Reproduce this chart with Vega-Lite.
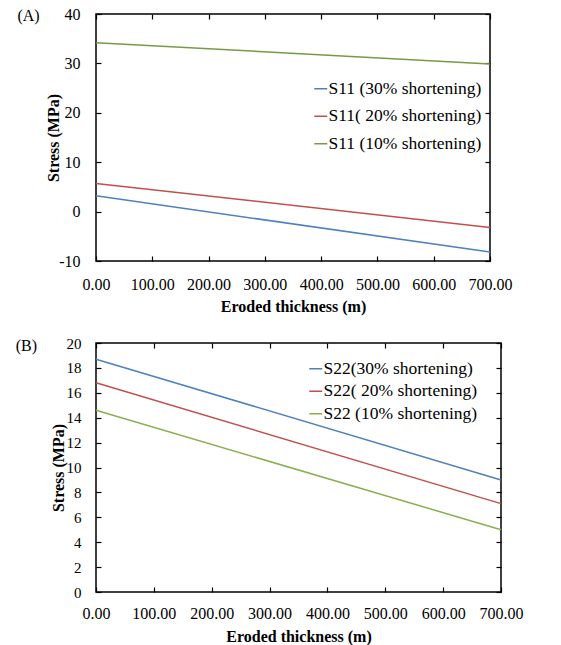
{
  "$schema": "https://vega.github.io/schema/vega-lite/v6.json",
  "padding": {"left": 14, "top": 5, "right": 5, "bottom": 5},
  "background": "white",
  "columns": 1,
  "config": {
    "font": "Liberation Serif",
    "view": {"stroke": "black", "strokeWidth": 1.5},
    "axis": {
      "labelFont": "Liberation Serif", "labelFontSize": 16, "labelColor": "black",
      "titleFont": "Liberation Serif", "titleFontSize": 16, "titleFontWeight": "bold", "titleColor": "black",
      "grid": false, "domain": false, "tickColor": "black", "tickSize": -5, "tickWidth": 1.2,
      "labelOverlap": false, "labelFlush": false, "labelBound": false
    },
    "legend": {
      "labelFont": "Liberation Serif", "labelFontSize": 17.5, "labelColor": "black",
      "symbolType": "stroke", "symbolSize": 169, "symbolStrokeWidth": 1.5, "labelOffset": -1, "title": null
    },
    "title": {"font": "Liberation Serif", "fontSize": 16, "fontWeight": "normal", "color": "black"}
  },
  "datasets": {
    "a": [
      {"x": 0, "stress": 3.2, "series": "S11 (30% shortening)"},
      {"x": 700, "stress": -8.2, "series": "S11 (30% shortening)"},
      {"x": 0, "stress": 5.7, "series": "S11( 20% shortening)"},
      {"x": 700, "stress": -3.2, "series": "S11( 20% shortening)"},
      {"x": 0, "stress": 34.2, "series": "S11 (10% shortening)"},
      {"x": 700, "stress": 29.9, "series": "S11 (10% shortening)"}
    ],
    "b": [
      {"x": 0, "stress": 18.7, "series": "S22(30% shortening)"},
      {"x": 700, "stress": 9.0, "series": "S22(30% shortening)"},
      {"x": 0, "stress": 16.8, "series": "S22( 20% shortening)"},
      {"x": 700, "stress": 7.1, "series": "S22( 20% shortening)"},
      {"x": 0, "stress": 14.6, "series": "S22 (10% shortening)"},
      {"x": 700, "stress": 5.0, "series": "S22 (10% shortening)"}
    ]
  },
  "spacing": 20,
  "concat": [
    {
      "width": 394, "height": 247,
      "title": {"text": "(A)", "orient": "left", "anchor": "end", "angle": 0, "align": "left", "baseline": "top", "offset": 6, "dy": 2},
      "data": {"name": "a"},
      "layer": [
        {
          "mark": {"type": "line", "strokeWidth": 1.5},
          "encoding": {
            "x": {"field": "x", "type": "quantitative", "scale": {"domain": [0, 700]},
                  "axis": {"values": [0,100,200,300,400,500,600,700], "format": ".2f", "title": "Eroded thickness (m)", "titlePadding": 6, "labelPadding": 20}},
            "y": {"field": "stress", "type": "quantitative", "scale": {"domain": [-10, 40]},
                  "axis": {"values": [-10,0,10,20,30,40], "labelExpr": "datum.value < 0 ? '-' + abs(datum.value) : '' + datum.value", "title": "Stress (MPa)", "titlePadding": -3, "labelPadding": 21}},
            "color": {"field": "series", "type": "nominal",
                      "scale": {"domain": ["S11 (30% shortening)", "S11( 20% shortening)", "S11 (10% shortening)"], "range": ["#4F81BD", "#C0504D", "#779A45"]},
                      "legend": {"orient": "none", "legendX": 216, "legendY": 66, "rowPadding": 8.5}}
          }
        },
        {
          "mark": {"type": "line", "opacity": 0},
          "encoding": {
            "x": {"field": "x", "type": "quantitative", "axis": {"orient": "top", "values": [0,100,200,300,400,500,600,700], "labels": false, "title": null}},
            "y": {"field": "stress", "type": "quantitative", "axis": {"orient": "right", "values": [-10,0,10,20,30,40], "labels": false, "title": null}}
          }
        }
      ],
      "resolve": {"axis": {"x": "independent", "y": "independent"}}
    },
    {
      "width": 405, "height": 249,
      "title": {"text": "(B)", "orient": "left", "anchor": "end", "angle": 0, "align": "left", "baseline": "top", "offset": 13, "dy": 2},
      "data": {"name": "b"},
      "layer": [
        {
          "mark": {"type": "line", "strokeWidth": 1.5},
          "encoding": {
            "x": {"field": "x", "type": "quantitative", "scale": {"domain": [0, 700]},
                  "axis": {"values": [0,100,200,300,400,500,600,700], "format": ".2f", "title": "Eroded thickness (m)", "titlePadding": 7, "labelPadding": 18}},
            "y": {"field": "stress", "type": "quantitative", "scale": {"domain": [0, 20]},
                  "axis": {"values": [0,2,4,6,8,10,12,14,16,18,20], "title": "Stress (MPa)", "titlePadding": 0, "labelPadding": 20, "labelFontSize": 15}},
            "color": {"field": "series", "type": "nominal",
                      "scale": {"domain": ["S22(30% shortening)", "S22( 20% shortening)", "S22 (10% shortening)"], "range": ["#4F81BD", "#C0504D", "#8AAF50"]},
                      "legend": {"orient": "none", "legendX": 211, "legendY": 17, "rowPadding": 3.5}}
          }
        },
        {
          "mark": {"type": "line", "opacity": 0},
          "encoding": {
            "x": {"field": "x", "type": "quantitative", "axis": {"orient": "top", "values": [0,100,200,300,400,500,600,700], "labels": false, "title": null}},
            "y": {"field": "stress", "type": "quantitative", "axis": {"orient": "right", "values": [0,2,4,6,8,10,12,14,16,18,20], "labels": false, "title": null}}
          }
        }
      ],
      "resolve": {"axis": {"x": "independent", "y": "independent"}, "scale": {"color": "independent"}}
    }
  ],
  "resolve": {"scale": {"color": "independent"}, "legend": {"color": "independent"}}
}
